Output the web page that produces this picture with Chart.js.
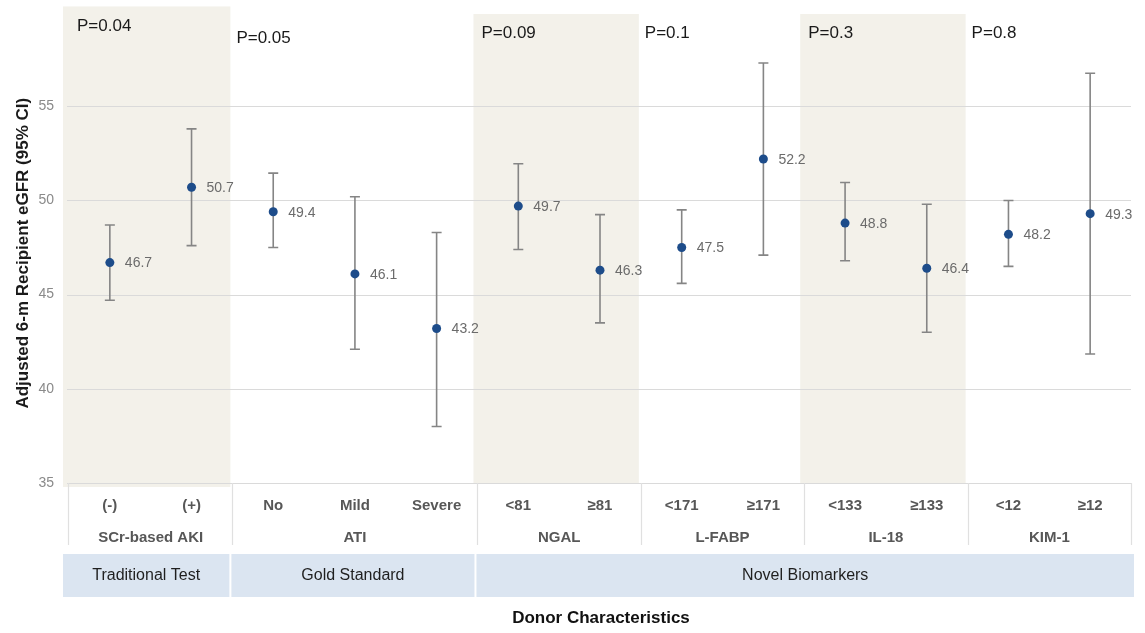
<!DOCTYPE html>
<html>
<head>
<meta charset="utf-8">
<script src="https://cdn.jsdelivr.net/npm/chart.js@4.4.1/dist/chart.umd.min.js"></script>
<style>
  html, body { margin: 0; padding: 0; background: #fff; }
  #wrap { width: 1145px; height: 633px; position: relative; }
</style>
</head>
<body>
<div id="wrap"><canvas id="chart"></canvas></div>
<script>
const categories = ["(-)", "(+)", "No", "Mild", "Severe", "<81", "≥81", "<171", "≥171", "<133", "≥133", "<12", "≥12"];
const estimates = [46.7, 50.7, 49.4, 46.1, 43.2, 49.7, 46.3, 47.5, 52.2, 48.8, 46.4, 48.2, 49.3];
const lowerCI = [44.7, 47.6, 47.5, 42.1, 38.0, 47.4, 43.5, 45.6, 47.1, 46.8, 43.0, 46.5, 41.85];
const upperCI = [48.7, 53.8, 51.45, 50.2, 48.3, 51.95, 49.25, 49.5, 57.3, 50.95, 49.8, 50.0, 56.75];

const groupNames = ["SCr-based AKI", "ATI", "NGAL", "L-FABP", "IL-18", "KIM-1"];
const groupSizes = [2, 3, 2, 2, 2, 2];
const groupPValues = ["P=0.04", "P=0.05", "P=0.09", "P=0.1", "P=0.3", "P=0.8"];
const shadedGroups = [0, 2, 4];

const tierNames = ["Traditional Test", "Gold Standard", "Novel Biomarkers"];
const tierSizes = [2, 3, 8];

const FONT = "'Liberation Sans', Arial, sans-serif";

// start/end category index for each group
function spans(sizes) {
  let out = [], s = 0;
  sizes.forEach(n => { out.push([s, s + n - 1]); s += n; });
  return out;
}

const decorPlugin = {
  id: "decor",
  beforeDatasetsDraw(chart) {
    const { ctx, scales: { x, y }, chartArea } = chart;
    const half = (x.getPixelForValue(1) - x.getPixelForValue(0)) / 2;
    ctx.save();
    // shaded group columns
    ctx.fillStyle = "#f3f1ea";
    spans(groupSizes).forEach(([a, b], i) => {
      if (!shadedGroups.includes(i)) return;
      const left = x.getPixelForValue(a) - half - (i === 0 ? 6 : 4);
      const right = x.getPixelForValue(b) + half - 2;
      const top = i === 0 ? y.getPixelForValue(60.3) : y.getPixelForValue(59.9);
      const bottom = i === 0 ? chartArea.bottom + 4 : chartArea.bottom;
      ctx.fillRect(left, top, right - left, bottom - top);
    });
    // redraw gridlines over shading
    ctx.strokeStyle = "#dadada";
    ctx.lineWidth = 1;
    [35, 40, 45, 50, 55].forEach(v => {
      const py = Math.round(y.getPixelForValue(v)) + 0.5;
      ctx.beginPath();
      ctx.moveTo(chartArea.left - 2, py);
      ctx.lineTo(chartArea.right, py);
      ctx.stroke();
    });
    ctx.restore();
  },
  afterDatasetsDraw(chart) {
    const { ctx, scales: { x, y }, chartArea } = chart;
    const half = (x.getPixelForValue(1) - x.getPixelForValue(0)) / 2;
    ctx.save();
    // error bars
    ctx.strokeStyle = "#858585";
    ctx.lineWidth = 1.6;
    estimates.forEach((v, i) => {
      const px = x.getPixelForValue(i);
      const lo = y.getPixelForValue(lowerCI[i]);
      const hi = y.getPixelForValue(upperCI[i]);
      ctx.beginPath();
      ctx.moveTo(px, lo); ctx.lineTo(px, hi);
      ctx.moveTo(px - 5, lo); ctx.lineTo(px + 5, lo);
      ctx.moveTo(px - 5, hi); ctx.lineTo(px + 5, hi);
      ctx.stroke();
    });
    // points on top
    ctx.fillStyle = "#1d4c8a";
    estimates.forEach((v, i) => {
      ctx.beginPath();
      ctx.arc(x.getPixelForValue(i), y.getPixelForValue(v), 4.5, 0, Math.PI * 2);
      ctx.fill();
    });
    // value labels
    ctx.fillStyle = "#6b6b6b";
    ctx.font = "14px " + FONT;
    ctx.textAlign = "left";
    ctx.textBaseline = "middle";
    estimates.forEach((v, i) => {
      ctx.fillText(v.toFixed(1), x.getPixelForValue(i) + 15, y.getPixelForValue(v) + 1);
    });

    // p-values
    ctx.fillStyle = "#1a1a1a";
    ctx.font = "17px " + FONT;
    spans(groupSizes).forEach(([a], i) => {
      const left = x.getPixelForValue(a) - half;
      const py = i === 0 ? 26 : (i === 1 ? 38 : 33);
      ctx.fillText(groupPValues[i], left + (i === 0 ? 8 : 4), py);
    });

    // table under the plot
    const base = chartArea.bottom;
    ctx.strokeStyle = "#e0e0e0";
    ctx.lineWidth = 1.2;
    const bounds = [chartArea.left - 1];
    spans(groupSizes).forEach(([a, b]) => bounds.push(x.getPixelForValue(b) + half));
    bounds.forEach(bx => {
      ctx.beginPath();
      ctx.moveTo(Math.round(bx) + 0.5, base);
      ctx.lineTo(Math.round(bx) + 0.5, base + 62);
      ctx.stroke();
    });
    ctx.textAlign = "center";
    ctx.fillStyle = "#575757";
    ctx.font = "bold 15px " + FONT;
    categories.forEach((c, i) => ctx.fillText(c, x.getPixelForValue(i), base + 23));
    spans(groupSizes).forEach(([a, b], i) => {
      ctx.fillText(groupNames[i], (x.getPixelForValue(a) + x.getPixelForValue(b)) / 2, base + 55);
    });

    // tier band
    ctx.font = "16px " + FONT;
    spans(tierSizes).forEach(([a, b], i) => {
      const left = (i === 0 ? chartArea.left - 7 : x.getPixelForValue(a) - half - 2) + 1;
      const right = (i === tierSizes.length - 1 ? chartArea.right + 3 : x.getPixelForValue(b) + half - 3);
      ctx.fillStyle = "#dbe5f1";
      ctx.fillRect(left, base + 71, right - left, 43);
      ctx.fillStyle = "#1f1f1f";
      ctx.fillText(tierNames[i], (left + right) / 2, base + 93);
    });

    // x title
    ctx.font = "bold 17px " + FONT;
    ctx.fillStyle = "#111";
    ctx.fillText("Donor Characteristics", (chartArea.left + chartArea.right) / 2 + 1, base + 135);
    ctx.restore();
  }
};

new Chart(document.getElementById("chart"), {
  type: "scatter",
  data: {
    labels: categories,
    datasets: [{
      label: "Adjusted eGFR",
      data: estimates,
      pointRadius: 0,
      showLine: false
    }]
  },
  options: {
    responsive: true,
    maintainAspectRatio: false,
    animation: false,
    layout: { padding: { top: 5, right: 14, bottom: 150, left: 0 } },
    plugins: { legend: { display: false }, tooltip: { enabled: false } },
    scales: {
      x: {
        type: "category",
        offset: true,
        display: false,
        grid: { display: false }
      },
      y: {
        min: 35,
        max: 59.4,
        afterBuildTicks: s => { s.ticks = [35, 40, 45, 50, 55].map(v => ({ value: v })); },
        afterFit: s => { s.width = 69; },
        border: { display: false },
        grid: { display: false, drawTicks: false },
        ticks: { color: "#8a8a8a", font: { family: FONT, size: 14 }, padding: 15 },
        title: {
          display: true,
          text: "Adjusted 6-m Recipient eGFR (95% CI)",
          color: "#1a1a1a",
          font: { family: FONT, size: 17, weight: "bold" },
          padding: { top: 13, bottom: 4 }
        }
      }
    }
  },
  plugins: [decorPlugin]
});
</script>
</body>
</html>
